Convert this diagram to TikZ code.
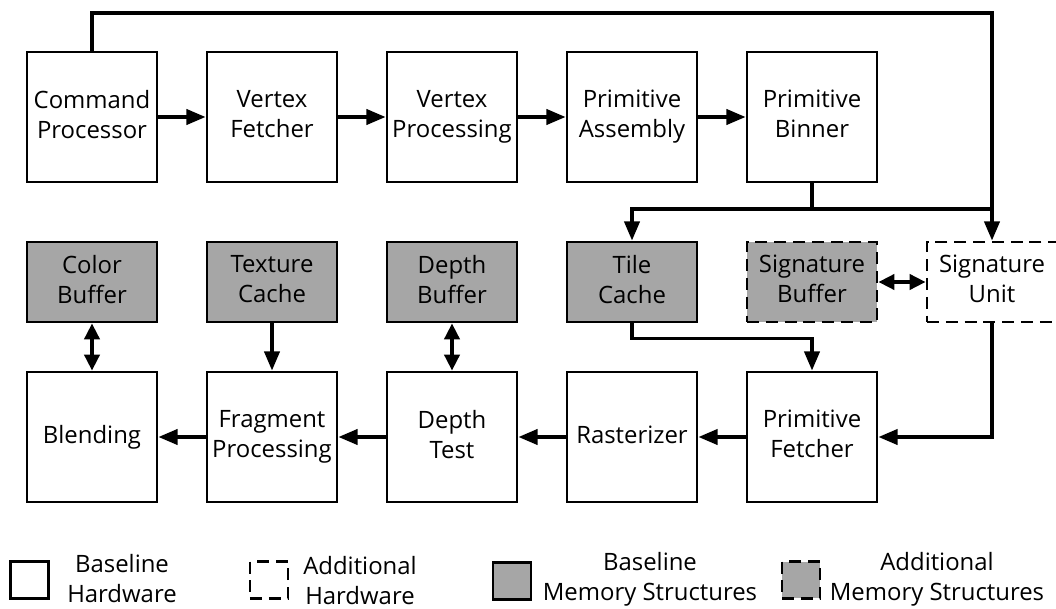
\documentclass[tikz,border=0pt]{standalone}
\usepackage{fontspec}
\setmainfont{Open Sans}
\usetikzlibrary{arrows.meta}

\begin{document}
\begin{tikzpicture}[x=0.025cm, y=-0.025cm,
	font=\fontsize{17}{21.3}\selectfont,
	unit/.style={rectangle, draw, fill=white, line width=2pt, minimum width=3.25cm, minimum height=3.25cm, align=center, inner sep=0pt,
		execute at begin node={\vphantom{d}}, execute at end node={\vphantom{g}}},
	mem/.style={unit, minimum height=2cm, fill=black!35},
	extra/.style={dash pattern=on 0.3cm off 0.17cm},
	wire/.style={line width=2.5pt},
	arr/.style={wire, -{Triangle[length=0.48cm, width=0.38cm]}},
	dbl/.style={wire, {Triangle[length=0.4cm, width=0.38cm]}-{Triangle[length=0.4cm, width=0.38cm]}},
	key/.style={rectangle, draw, line width=2pt, minimum width=0.95cm, minimum height=0.92cm},
	keytext/.style={align=center, inner sep=0pt}]
	\useasboundingbox (0,0) rectangle (1056,609);
	% pipeline, top row
	\foreach \name/\x/\txt in {cp/92/Command\\Processor, vf/272/Vertex\\Fetcher, vp/452/Vertex\\Processing, pa/632/Primitive\\Assembly, pb/812/Primitive\\Binner} {
		\node[unit] (\name) at (\x,117) {\txt};
	}
	% memories
	\foreach \name/\x/\txt in {cb/92/Color\\Buffer, tc/272/Texture\\Cache, db/452/Depth\\Buffer, tile/632/Tile\\Cache} {
		\node[mem] (\name) at (\x,282) {\txt};
	}
	\node[mem, extra] (sb) at (812,282) {Signature\\Buffer};
	\node[unit, extra, minimum height=2cm] (su) at (992,282) {Signature\\Unit};
	% pipeline, bottom row
	\foreach \name/\x/\txt in {bl/92/Blending, fp/272/Fragment\\Processing, dt/452/Depth\\Test, ra/632/Rasterizer, pf/812/Primitive\\Fetcher} {
		\node[unit] (\name) at (\x,437) {\txt};
	}

	\draw[arr] (cp) -- (vf);
	\draw[arr] (vf) -- (vp);
	\draw[arr] (vp) -- (pa);
	\draw[arr] (pa) -- (pb);
	\draw[arr] (pf) -- (ra);
	\draw[arr] (ra) -- (dt);
	\draw[arr] (dt) -- (fp);
	\draw[arr] (fp) -- (bl);
	\draw[dbl] (cb) -- (bl);
	\draw[arr] (tc) -- (fp);
	\draw[dbl] (db) -- (dt);
	\draw[dbl] (sb) -- (su);

	\coordinate (top) at (500,13);
	\coordinate (split) at (812,209);
	\draw[arr] (cp.north) |- (top) -| (su.north);
	\draw[wire] (pb.south) -- (split);
	\draw[arr] (split) -| (tile.north);
	\draw[wire] (split) -- (split -| su.north);
	\draw[arr] (tile.south) -- ++(0,15) -| (pf.north);
	\draw[arr] (su.south) |- (pf.east);

	% legend
	\node[key] (k1) at (29.5,580) {};
	\node[keytext] (t1) at (122,579) {Baseline\\Hardware};
	\node[key, extra] (k2) at (269,580) {};
	\node[keytext] (t2) at (360,581) {Additional\\Hardware};
	\node[key, fill=black!35] (k3) at (512,581) {};
	\node[keytext] (t3) at (650,579) {Baseline\\Memory Structures};
	\node[key, extra, fill=black!35] (k4) at (801,580) {};
	\node[keytext] (t4) at (937,579) {Additional\\Memory Structures};
\end{tikzpicture}
\end{document}
